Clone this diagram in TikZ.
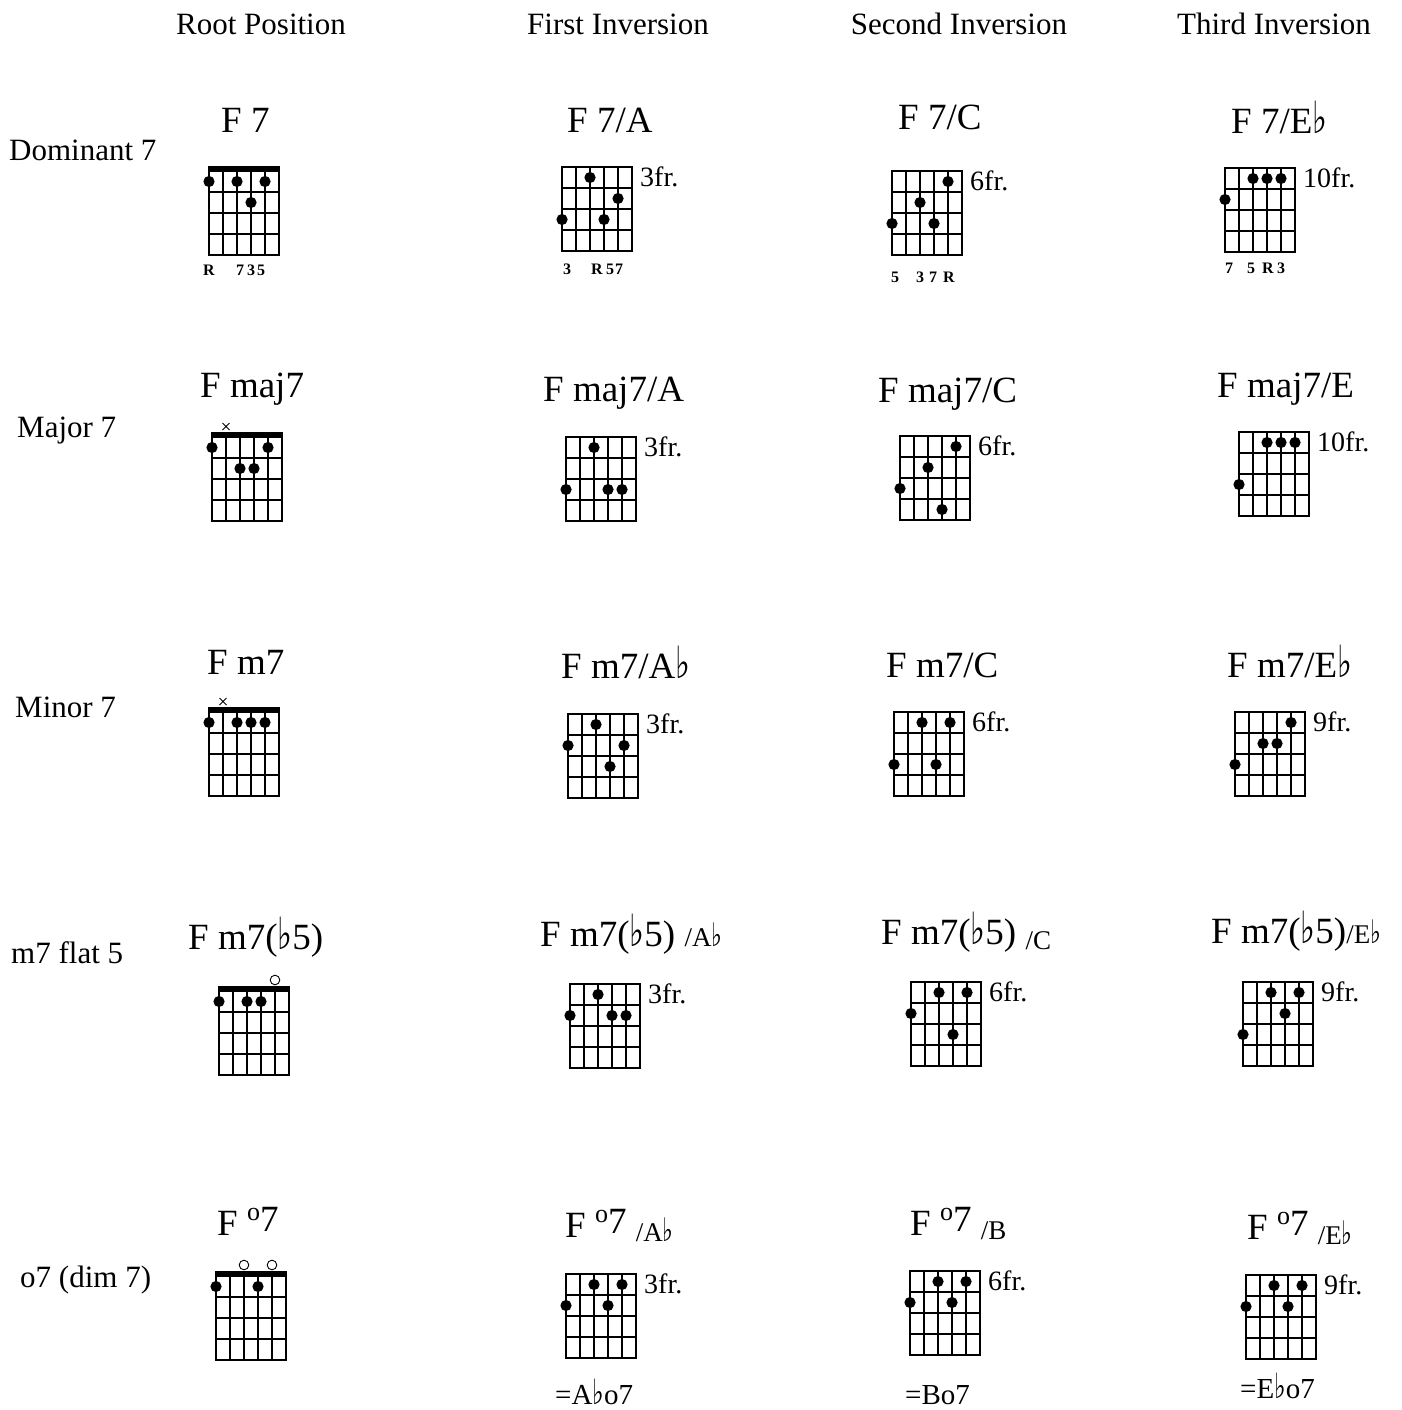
\documentclass[tikz,border=0pt]{standalone}
\usepackage{graphicx}
\usepackage{fontspec}
\setmainfont{Liberation Serif}
\newfontfamily\musicfont{DejaVu Sans}
\usetikzlibrary{positioning, calc}

\newcommand{\flt}{{\musicfont\scalebox{0.85}[1.2]{♭}}}
\newcommand{\dimsym}{\raisebox{15pt}{\fontsize{26}{26}\selectfont o}\raisebox{4pt}{7}}
\newcommand{\bassnote}[2]{\raisebox{#1}{\fontsize{27}{27}\selectfont #2}}

\tikzstyle{header} = [font=\fontsize{31}{36}\selectfont, anchor=base, inner sep=0pt]
\tikzstyle{rowlabel} = [font=\fontsize{31}{36}\selectfont, anchor=base west, inner sep=0pt]
\tikzstyle{chordname} = [font=\fontsize{37}{42}\selectfont, anchor=base west, inner sep=0pt]
\tikzstyle{fretlabel} = [font=\fontsize{28}{32}\selectfont, inner sep=0pt, yshift=-10pt]
\tikzstyle{degree} = [font=\bfseries\fontsize{16}{18}\selectfont, inner sep=0pt]
\tikzstyle{equiv} = [font=\fontsize{29}{34}\selectfont, anchor=base west, inner sep=0pt]
\tikzstyle{gridline} = [line width=1.7pt]
\tikzstyle{markline} = [line width=0.9pt]

% grid: name, left x, top y, dots (string/fret)
\newcommand{\chordgrid}[4]{%
  \coordinate (#1) at (#2,#3);
  \coordinate (#1-tr) at (#2+70,#3);
  \foreach \s in {0,...,5} \draw[gridline] (#2+\s*14,#3) -- (#2+\s*14,#3+84);
  \foreach \f in {0,...,4} \draw[gridline] (#2-0.85,#3+\f*21) -- (#2+70.85,#3+\f*21);
  \foreach \s/\f in {#4} \fill (#2+\s*14-14,#3+\f*21-10.5) circle (5.6pt);
}
\newcommand{\nutbar}[1]{\fill ($(#1)+(-0.85,0.85)$) rectangle ++(71.7,-5.6);}
\newcommand{\mutemark}[2]{\draw[markline] ($(#1)+({(#2-1)*14-3.5},-14)$) -- ++(7,7) ++(-7,0) -- ++(7,-7);}
\newcommand{\openmark}[2]{\draw[markline] ($(#1)+({(#2-1)*14},-11)$) circle (4.8pt);}

\begin{document}
\begin{tikzpicture}[x=1pt, y=-1pt]
    \useasboundingbox (0,0) rectangle (1401,1410);

    % Headers
    \node[header] (h0) at (261,35) {Root Position};
    \node[header] (h1) at (618,35) {First Inversion};
    \node[header] (h2) at (959,35) {Second Inversion};
    \node[header] (h3) at (1274,35) {Third Inversion};

    % Row labels
    \node[rowlabel] (r-dom) at (9,160) {Dominant 7};
    \node[rowlabel] (r-maj) at (17,437) {Major 7};
    \node[rowlabel] (r-min) at (15,717) {Minor 7};
    \node[rowlabel] (r-hdim) at (11,963) {m7 flat 5};
    \node[rowlabel] (r-dim) at (20,1287) {o7 (dim 7)};

    % Dominant 7
    \node[chordname] (n-dom-root) at (221,132) {F 7};
    \node[chordname] (n-dom-i1) at (567,132) {F 7/A};
    \node[chordname] (n-dom-i2) at (898,130) {F 7/C};
    \node[chordname] (n-dom-i3) at (1231,134) {F 7/E\flt};
    \chordgrid{dom-root}{209}{171}{1/1,3/1,5/1,4/2}
    \nutbar{dom-root}
    \chordgrid{dom-i1}{562}{167}{3/1,5/2,1/3,4/3}
    \chordgrid{dom-i2}{892}{171}{5/1,3/2,1/3,4/3}
    \chordgrid{dom-i3}{1225}{168}{3/1,4/1,5/1,1/2}
    \node[fretlabel, right=8pt of dom-i1-tr] (fr-dom-i1) {3fr.};
    \node[fretlabel, right=8pt of dom-i2-tr] (fr-dom-i2) {6fr.};
    \node[fretlabel, right=8pt of dom-i3-tr] (fr-dom-i3) {10fr.};
    \foreach \t/\dx in {R/0,7/31,3/42,5/52}
        \node[degree] (d-dom-root-\t) at ($(dom-root)+(\dx,99)$) {\t};
    \foreach \t/\dx in {3/5,R/35,5/48,7/57}
        \node[degree] (d-dom-i1-\t) at ($(dom-i1)+(\dx,102)$) {\t};
    \foreach \t/\dx in {5/3,3/28,7/41,R/57}
        \node[degree] (d-dom-i2-\t) at ($(dom-i2)+(\dx,106)$) {\t};
    \foreach \t/\dx in {7/4,5/26,R/43,3/56}
        \node[degree] (d-dom-i3-\t) at ($(dom-i3)+(\dx,100)$) {\t};

    % Major 7
    \node[chordname] (n-maj-root) at (200,397) {F maj7};
    \node[chordname] (n-maj-i1) at (543,401) {F maj7/A};
    \node[chordname] (n-maj-i2) at (878,402) {F maj7/C};
    \node[chordname] (n-maj-i3) at (1217,397) {F maj7/E};
    \chordgrid{maj-root}{212}{437}{1/1,5/1,3/2,4/2}
    \nutbar{maj-root}
    \mutemark{maj-root}{2}
    \chordgrid{maj-i1}{566}{437}{3/1,1/3,4/3,5/3}
    \chordgrid{maj-i2}{900}{436}{5/1,3/2,1/3,4/4}
    \chordgrid{maj-i3}{1239}{432}{3/1,4/1,5/1,1/3}
    \node[fretlabel, right=8pt of maj-i1-tr] (fr-maj-i1) {3fr.};
    \node[fretlabel, right=8pt of maj-i2-tr] (fr-maj-i2) {6fr.};
    \node[fretlabel, right=8pt of maj-i3-tr] (fr-maj-i3) {10fr.};

    % Minor 7
    \node[chordname] (n-min-root) at (207,674) {F m7};
    \node[chordname] (n-min-i1) at (561,678) {F m7/A\flt};
    \node[chordname] (n-min-i2) at (886,677) {F m7/C};
    \node[chordname] (n-min-i3) at (1227,677) {F m7/E\flt};
    \chordgrid{min-root}{209}{712}{1/1,3/1,4/1,5/1}
    \nutbar{min-root}
    \mutemark{min-root}{2}
    \chordgrid{min-i1}{568}{714}{3/1,1/2,5/2,4/3}
    \chordgrid{min-i2}{894}{712}{3/1,5/1,1/3,4/3}
    \chordgrid{min-i3}{1235}{712}{5/1,3/2,4/2,1/3}
    \node[fretlabel, right=8pt of min-i1-tr] (fr-min-i1) {3fr.};
    \node[fretlabel, right=8pt of min-i2-tr] (fr-min-i2) {6fr.};
    \node[fretlabel, right=8pt of min-i3-tr] (fr-min-i3) {9fr.};

    % m7 flat 5
    \node[chordname] (n-hdim-root) at (188,949) {F m7(\flt5)};
    \node[chordname] (n-hdim-i1) at (540,946) {F m7(\flt5) \bassnote{0pt}{/A\flt}};
    \node[chordname] (n-hdim-i2) at (881,944) {F m7(\flt5) \bassnote{-5pt}{/C}};
    \node[chordname] (n-hdim-i3) at (1211,943) {F m7(\flt5)\bassnote{0pt}{/E\flt}};
    \chordgrid{hdim-root}{219}{991}{1/1,3/1,4/1}
    \nutbar{hdim-root}
    \openmark{hdim-root}{5}
    \chordgrid{hdim-i1}{570}{984}{3/1,1/2,4/2,5/2}
    \chordgrid{hdim-i2}{911}{982}{3/1,5/1,1/2,4/3}
    \chordgrid{hdim-i3}{1243}{982}{3/1,5/1,4/2,1/3}
    \node[fretlabel, right=8pt of hdim-i1-tr] (fr-hdim-i1) {3fr.};
    \node[fretlabel, right=8pt of hdim-i2-tr] (fr-hdim-i2) {6fr.};
    \node[fretlabel, right=8pt of hdim-i3-tr] (fr-hdim-i3) {9fr.};

    % o7 (dim 7)
    \node[chordname] (n-dim-root) at (217,1235) {F \dimsym};
    \node[chordname] (n-dim-i1) at (565,1237) {F \dimsym\ \bassnote{-4pt}{/A\flt}};
    \node[chordname] (n-dim-i2) at (910,1235) {F \dimsym\ \bassnote{-4pt}{/B}};
    \node[chordname] (n-dim-i3) at (1247,1239) {F \dimsym\ \bassnote{-5pt}{/E\flt}};
    \chordgrid{dim-root}{216}{1276}{1/1,4/1}
    \nutbar{dim-root}
    \openmark{dim-root}{3}
    \openmark{dim-root}{5}
    \chordgrid{dim-i1}{566}{1274}{3/1,5/1,1/2,4/2}
    \chordgrid{dim-i2}{910}{1271}{3/1,5/1,1/2,4/2}
    \chordgrid{dim-i3}{1246}{1275}{3/1,5/1,1/2,4/2}
    \node[fretlabel, right=8pt of dim-i1-tr] (fr-dim-i1) {3fr.};
    \node[fretlabel, right=8pt of dim-i2-tr] (fr-dim-i2) {6fr.};
    \node[fretlabel, right=8pt of dim-i3-tr] (fr-dim-i3) {9fr.};
    \node[equiv] (eq-dim-i1) at (555,1404) {=A\flt o7};
    \node[equiv] (eq-dim-i2) at (905,1404) {=Bo7};
    \node[equiv] (eq-dim-i3) at (1240,1398) {=E\flt o7};

\end{tikzpicture}
\end{document}
